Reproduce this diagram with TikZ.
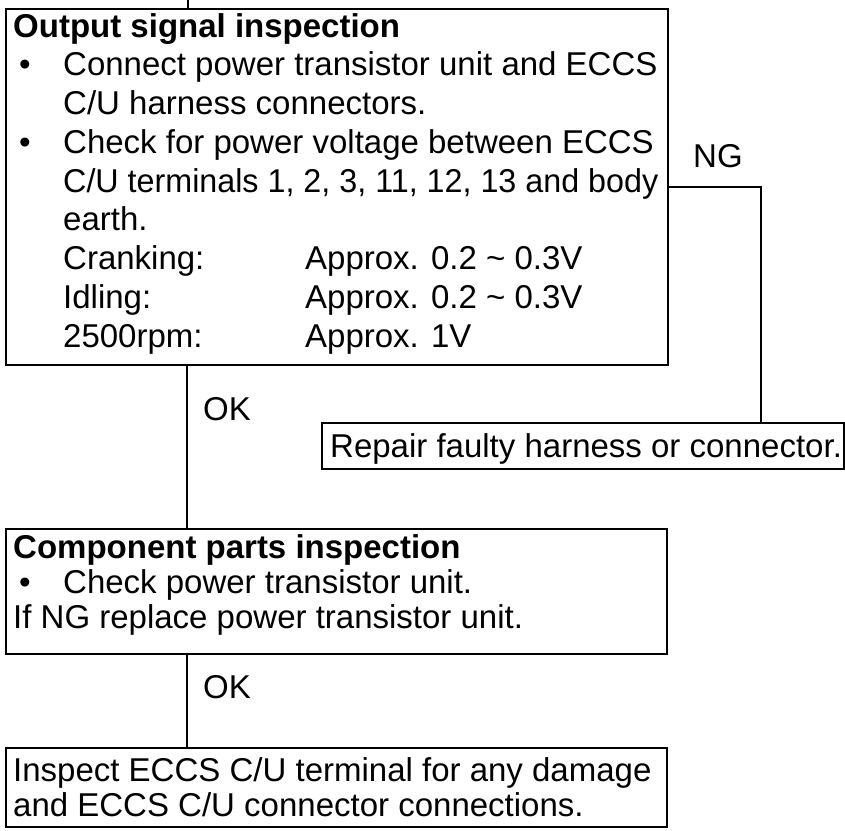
\documentclass[tikz,border=0pt]{standalone}
\usepackage{fontspec}
\setmainfont{Liberation Sans}
\begin{document}
\begin{tikzpicture}[x=1pt,y=-1pt,
  every node/.style={font=\fontsize{33}{38}\selectfont, inner sep=0pt},
  ln/.style={anchor=base west},
  ttl/.style={anchor=base west, font=\fontsize{33}{38}\selectfont\bfseries},
  frame/.style={draw, line width=1.8pt, rectangle, anchor=north west, inner sep=0pt},
  conn/.style={line width=1.8pt}]
\useasboundingbox (0,0) rectangle (845,830);

% boxes
\node[frame, minimum width=662pt, minimum height=356pt] (b1) at (5,8) {};
\node[frame, minimum width=661pt, minimum height=125pt] (b2) at (5,528) {};
\node[frame, minimum width=661pt, minimum height=79pt] (b3) at (5,747) {};
\node[frame, minimum width=522pt, minimum height=46pt] (rep) at (321,422) {};

% box 1 text
\node[ttl] (t1) at (13,37) {Output signal inspection};
\node[ln] (u1) at (19,75.75) {•};
\node[ln] (t2) at (63,75.75) {Connect power transistor unit and ECCS};
\node[ln] (t3) at (63,114.5) {C/U harness connectors.};
\node[ln] (u2) at (19,153.25) {•};
\node[ln] (t4) at (63,153.25) {Check for power voltage between ECCS};
\node[ln] (t5) at (63,192) {\scalebox{0.978}[1]{C/U terminals 1, 2, 3, 11, 12, 13 and body}};
\node[ln] (t6) at (63,230.75) {earth.};
\node[ln] (t7) at (63,269.5) {Cranking:};
\node[ln] (v7) at (305,269.5) {Approx. 0.2 \textasciitilde{} 0.3V};
\node[ln] (t8) at (63,308.25) {Idling:};
\node[ln] (v8) at (305,308.25) {Approx. 0.2 \textasciitilde{} 0.3V};
\node[ln] (t9) at (63,347) {2500rpm:};
\node[ln] (v9) at (305,347) {Approx. 1V};

% box 2 text
\node[ttl] (s1) at (13,558) {Component parts inspection};
\node[ln] (u3) at (19,593) {•};
\node[ln] (s2) at (63,593) {Check power transistor unit.};
\node[ln] (s3) at (13,628) {If NG replace power transistor unit.};

% box 3 text
\node[ln] (r1) at (13,781) {Inspect ECCS C/U terminal for any damage};
\node[ln] (r2) at (13,816) {and ECCS C/U connector connections.};

% repair text
\node[ln] (rt) at (330,457) {Repair faulty harness or connector.};

% labels
\node[ln] (ng) at (693,167) {NG};
\node[ln] (ok1) at (203,420) {OK};
\node[ln] (ok2) at (203,698) {OK};

% connectors
\coordinate (top) at (188,0);
\coordinate (okx) at (187,0);
\coordinate (ngc) at (761,0);
\draw[conn] (top) -- (top |- b1.north);
\draw[conn] (b1.south -| okx) -- (b2.north -| okx);
\draw[conn] (b2.south -| okx) -- (b3.north -| okx);
\draw[conn] (b1.east) -- (b1.east -| ngc) -- (ngc |- rep.north);
\end{tikzpicture}
\end{document}
